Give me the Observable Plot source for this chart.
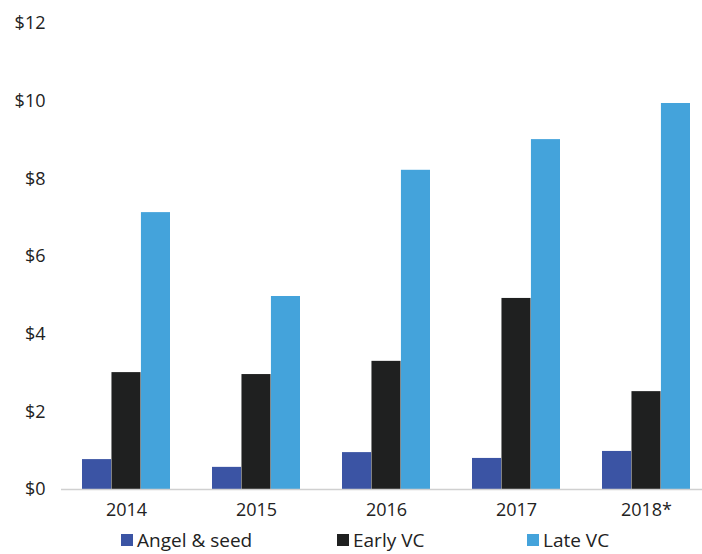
<!DOCTYPE html>
<html>
<head>
<meta charset="utf-8">
<script src="https://cdn.jsdelivr.net/npm/d3@7"></script>
<script src="https://cdn.jsdelivr.net/npm/@observablehq/plot@0.6"></script>
<style>
  html, body { margin: 0; padding: 0; background: #fff; }
  #wrap { width: 702px; font-family: "Open Sans", sans-serif; color: #222; }
  #legend { position: relative; height: 22px; width: 702px; font-size: 19px; line-height: 20px; margin-top: 0px; }
  .item { position: absolute; top: 0; display: flex; align-items: center; white-space: nowrap; }
  .sw { width: 12px; height: 12px; margin-right: 4px; display: inline-block; }
</style>
</head>
<body>
<div id="wrap"></div>
<script>
const years = ["2014", "2015", "2016", "2017", "2018*"];
const series = ["Angel & seed", "Early VC", "Late VC"];
const angelSeed = [0.77, 0.57, 0.95, 0.80, 0.98];
const earlyVC = [3.01, 2.96, 3.30, 4.92, 2.52];
const lateVC = [7.13, 4.97, 8.22, 9.01, 9.94];
const colors = ["#3b54a4", "#1f2020", "#44a3db"];
const yTicks = [0, 2, 4, 6, 8, 10, 12];

const rows = (vals) => years.map((y, i) => ({year: y, value: vals[i]}));
const all = [angelSeed, earlyVC, lateVC];
const bw = 88.4; // band width in px used to split each group into three
const third = bw / 3;

const chart = Plot.plot({
  width: 702,
  height: 530,
  marginTop: 23,
  marginBottom: 41,
  marginLeft: 61,
  marginRight: -9,
  style: {fontFamily: "Open Sans, sans-serif", fontSize: "17px", color: "#222", background: "#fff"},
  x: {domain: years, paddingInner: 0.32, paddingOuter: 0.16, axis: null},
  y: {domain: [0, 12], axis: null},
  marks: [
    ...all.map((vals, k) => Plot.barY(rows(vals), {
      x: "year", y: "value", fill: colors[k],
      insetLeft: k * third, insetRight: (2 - k) * third
    })),
    Plot.ruleY([0], {stroke: "#d0d0d0", strokeWidth: 1.5}),
    Plot.axisY({ticks: yTicks, tickSize: 0, tickPadding: 16, tickFormat: d => "$" + d, fontSize: 18, label: null}),
    Plot.axisX({tickSize: 0, tickPadding: 14, fontSize: 18, label: null})
  ]
});

const wrap = document.getElementById("wrap");
wrap.appendChild(chart);
const legend = document.createElement("div");
legend.id = "legend";
const lefts = [121, 337, 527];
series.forEach((s, i) => {
  const it = document.createElement("div");
  it.className = "item";
  it.style.left = lefts[i] + "px";
  const sw = document.createElement("span");
  sw.className = "sw";
  sw.style.background = colors[i];
  const t = document.createElement("span");
  t.textContent = s;
  it.appendChild(sw);
  it.appendChild(t);
  legend.appendChild(it);
});
wrap.appendChild(legend);
</script>
</body>
</html>
